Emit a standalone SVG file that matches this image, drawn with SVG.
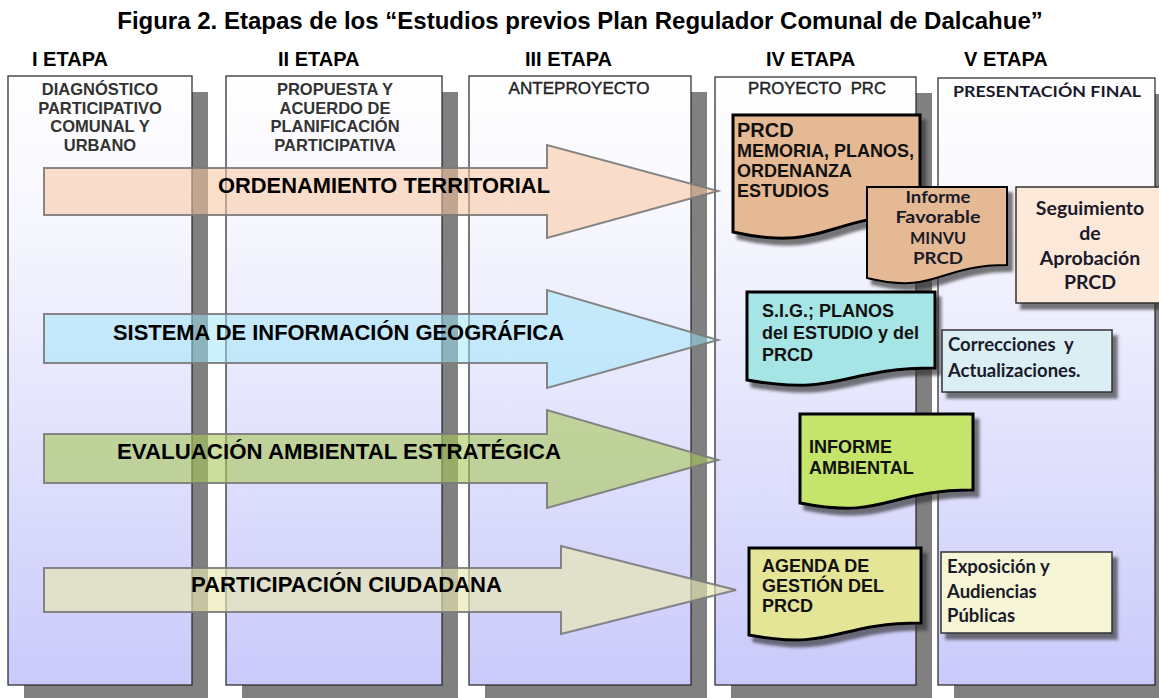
<svg xmlns="http://www.w3.org/2000/svg" width="1159" height="698" viewBox="0 0 1159 698">
<defs>
<linearGradient id="colg" gradientUnits="userSpaceOnUse" x1="0" y1="76" x2="0" y2="685">
<stop offset="0" stop-color="#ffffff"/>
<stop offset="0.25" stop-color="#f6f6fe"/>
<stop offset="1" stop-color="#cacafb"/>
</linearGradient>
<filter id="sh" x="-10%" y="-10%" width="130%" height="140%">
<feDropShadow dx="5" dy="6" stdDeviation="1.8" flood-color="#333333" flood-opacity="0.65"/>
</filter>
</defs>
<style>
.title{font-family:"Liberation Sans",Arial,sans-serif;font-weight:bold;font-size:24px;fill:#000}
.etapa{font-family:"Liberation Sans",Arial,sans-serif;font-weight:bold;font-size:20px;fill:#000}
.colbox{fill:url(#colg);stroke:#222;stroke-width:1.2}
.colsh{fill:#808080}
.colt{font-family:"Liberation Sans",Arial,sans-serif;font-weight:bold;font-size:16.5px;fill:#333;text-anchor:middle}
.colt2{font-family:"Liberation Sans",Arial,sans-serif;font-size:16.5px;fill:#222;stroke:#222;stroke-width:0.4;text-anchor:middle}
.arrow{stroke:#7a7a7a;stroke-width:2;stroke-opacity:0.9}
.arrt{font-family:"Liberation Sans",Arial,sans-serif;font-weight:bold;font-size:22px;fill:#000}
.doc{stroke:#000;stroke-width:3;filter:url(#sh)}
.box{stroke:#333;stroke-width:1.5;filter:url(#sh)}
.dt{font-family:"Liberation Sans",Arial,sans-serif;font-weight:bold;font-size:18px;fill:#111}
.ct{font-family:Lato,"Open Sans",sans-serif;font-weight:bold;font-size:18.5px;fill:#1a1a2a}
.ift{font-family:Lato,"Open Sans",sans-serif;font-weight:bold;font-size:17px;fill:#1a1a2a;text-anchor:middle}
</style>
<rect width="1159" height="698" fill="#ffffff"/>
<text class="title" x="580" y="29" text-anchor="middle">Figura 2. Etapas de los “Estudios previos Plan Regulador Comunal de Dalcahue”</text>

<g id="col1">
<text class="etapa" x="32" y="66">I ETAPA</text>
<rect class="colsh" x="24" y="92" width="184" height="620"/>
<rect class="colbox" x="8" y="76" width="184" height="609"/>
<text class="colt" x="100" y="95">DIAGNÓSTICO</text>
<text class="colt" x="100" y="113.5">PARTICIPATIVO</text>
<text class="colt" x="100" y="132">COMUNAL Y</text>
<text class="colt" x="100" y="150.5">URBANO</text>
</g>
<g id="col2">
<text class="etapa" x="278" y="66">II ETAPA</text>
<rect class="colsh" x="242" y="92" width="216" height="620"/>
<rect class="colbox" x="226" y="76" width="216" height="609"/>
<text class="colt" x="335" y="95">PROPUESTA Y</text>
<text class="colt" x="335" y="113.5">ACUERDO DE</text>
<text class="colt" x="335" y="132">PLANIFICACIÓN</text>
<text class="colt" x="335" y="150.5">PARTICIPATIVA</text>
</g>
<g id="col3">
<text class="etapa" x="525" y="66">III ETAPA</text>
<rect class="colsh" x="485" y="92" width="222" height="620"/>
<rect class="colbox" x="469" y="76" width="222" height="609"/>
<text class="colt2" x="579" y="94" textLength="141" lengthAdjust="spacingAndGlyphs">ANTEPROYECTO</text>
</g>
<g id="col4">
<text class="etapa" x="766" y="66">IV ETAPA</text>
<rect class="colsh" x="731" y="93" width="201" height="620"/>
<rect class="colbox" x="715" y="77" width="201" height="608"/>
<text class="colt2" x="817" y="94" textLength="138" lengthAdjust="spacingAndGlyphs" xml:space="preserve">PROYECTO  PRC</text>
</g>
<g id="col5">
<text class="etapa" x="964" y="66">V ETAPA</text>
<rect class="colsh" x="954" y="94" width="217" height="620"/>
<rect class="colbox" x="938" y="78" width="217" height="607"/>
<text class="ct" x="1047" y="97" text-anchor="middle" style="font-size:16px" textLength="188" lengthAdjust="spacingAndGlyphs">PRESENTACIÓN FINAL</text>
</g>

<g id="connectors">
<g id="arrow-ordenamiento">
<path class="arrow" d="M44,168 H547 V145 L718,191 L547,238 V215 H44 Z" fill="#f9c49d" fill-opacity="0.55"/>
<text class="arrt" x="218" y="193" textLength="332" lengthAdjust="spacingAndGlyphs">ORDENAMIENTO TERRITORIAL</text>
</g>
<g id="arrow-sig">
<path class="arrow" d="M44,314 H547 V290 L718,340 L547,388 V363 H44 Z" fill="#99e6f7" fill-opacity="0.5"/>
<text class="arrt" x="113" y="340" textLength="451" lengthAdjust="spacingAndGlyphs">SISTEMA DE INFORMACIÓN GEOGRÁFICA</text>
</g>
<g id="arrow-eae">
<path class="arrow" d="M44,434 H547 V410 L718,460 L547,508 V483 H44 Z" fill="#a9c858" fill-opacity="0.6"/>
<text class="arrt" x="117" y="459" textLength="444" lengthAdjust="spacingAndGlyphs">EVALUACIÓN AMBIENTAL ESTRATÉGICA</text>
</g>
<g id="arrow-pc">
<path class="arrow" d="M44,568 H561 V546 L736,590 L561,634 V612 H44 Z" fill="#e8e8b0" fill-opacity="0.65"/>
<text class="arrt" x="191" y="592" textLength="311" lengthAdjust="spacingAndGlyphs">PARTICIPACIÓN CIUDADANA</text>
</g>
</g>

<g id="doc-prcd">
<path class="doc" fill="#e5b993" d="M733,115 H920 V215 C826,215 826,253 733,232 Z"/>
<text class="dt" x="737" y="137" style="font-size:20px">PRCD</text>
<text class="dt" x="737" y="157">MEMORIA, PLANOS,</text>
<text class="dt" x="737" y="177">ORDENANZA</text>
<text class="dt" x="737" y="197">ESTUDIOS</text>
</g>
<g id="doc-informe-favorable">
<path class="doc" fill="#e5b993" style="stroke-width:2" d="M867,187 H1007 V265 C937,265 937,295 867,278 Z"/>
<text class="ift" x="938" y="203" textLength="65" lengthAdjust="spacingAndGlyphs">Informe</text>
<text class="ift" x="938" y="223" textLength="85" lengthAdjust="spacingAndGlyphs">Favorable</text>
<text class="ift" x="938" y="243.5" textLength="56" lengthAdjust="spacingAndGlyphs">MINVU</text>
<text class="ift" x="938" y="263.5" textLength="50" lengthAdjust="spacingAndGlyphs">PRCD</text>
</g>
<g id="box-seguimiento">
<rect class="box" x="1016" y="187" width="150" height="116" fill="#fde9da"/>
<text class="ct" x="1090" y="215" text-anchor="middle" style="font-size:19.5px">Seguimiento</text>
<text class="ct" x="1090" y="240" text-anchor="middle" style="font-size:19.5px">de</text>
<text class="ct" x="1090" y="265" text-anchor="middle" style="font-size:19.5px">Aprobación</text>
<text class="ct" x="1090" y="289" text-anchor="middle" style="font-size:19.5px">PRCD</text>
</g>
<g id="doc-sig">
<path class="doc" fill="#a6e5e5" d="M747,292 H935 V368 C841,368 841,397 747,380 Z"/>
<text class="dt" x="762" y="317">S.I.G.; PLANOS</text>
<text class="dt" x="762" y="338.5">del ESTUDIO y del</text>
<text class="dt" x="762" y="360.5">PRCD</text>
</g>
<g id="box-correcciones">
<rect class="box" x="942" y="330" width="170" height="62" fill="#dbeef4"/>
<text class="ct" x="948" y="351" xml:space="preserve">Correcciones  y</text>
<text class="ct" x="948" y="377">Actualizaciones.</text>
</g>
<g id="doc-informe-ambiental">
<path class="doc" fill="#c4e46b" d="M800,414 H973 V490 C886,490 886,520 800,503 Z"/>
<text class="dt" x="809" y="453">INFORME</text>
<text class="dt" x="809" y="474">AMBIENTAL</text>
</g>
<g id="doc-agenda">
<path class="doc" fill="#e5e597" d="M749,548 H921 V623 C835,623 835,651 749,635 Z"/>
<text class="dt" x="762" y="572">AGENDA DE</text>
<text class="dt" x="762" y="592">GESTIÓN DEL</text>
<text class="dt" x="762" y="612">PRCD</text>
</g>
<g id="box-exposicion">
<rect class="box" x="941" y="552" width="171" height="81" fill="#f6f6d6"/>
<text class="ct" x="947" y="573">Exposición y</text>
<text class="ct" x="947" y="598">Audiencias</text>
<text class="ct" x="947" y="622">Públicas</text>
</g>
</svg>
